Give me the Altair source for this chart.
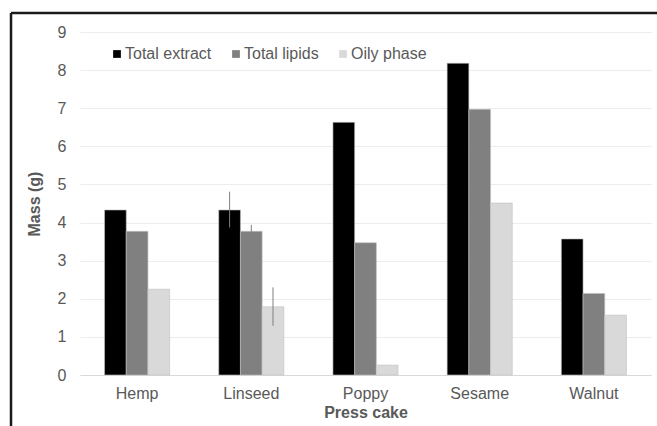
import altair as alt
import pandas as pd

cakes = ["Hemp", "Linseed", "Poppy", "Sesame", "Walnut"]
series = ["Total extract", "Total lipids", "Oily phase"]
total_extract = [4.33, 4.33, 6.63, 8.18, 3.57]
total_lipids = [3.77, 3.77, 3.47, 6.97, 2.14]
oily_phase = [2.25, 1.79, 0.26, 4.51, 1.57]
colors = ["#000000", "#808080", "#d9d9d9"]
y_ticks = [0, 1, 2, 3, 4, 5, 6, 7, 8, 9]

# error bars (Linseed only)
err_cake = ["Linseed", "Linseed", "Linseed"]
err_series = ["Total extract", "Total lipids", "Oily phase"]
err_low = [3.87, 3.60, 1.29]
err_high = [4.81, 3.94, 2.30]

rows = []
for s, vals in zip(series, [total_extract, total_lipids, oily_phase]):
    for c, v in zip(cakes, vals):
        rows.append({"cake": c, "series": s, "mass": v})
df = pd.DataFrame(rows)
edf = pd.DataFrame({"cake": err_cake, "series": err_series, "lo": err_low, "hi": err_high})

FONT = "Liberation Sans"
TXT = "#595959"

x_axis = alt.Axis(title="Press cake", labelAngle=0, ticks=False, labelPadding=10,
                  labelFontSize=16, labelColor=TXT, labelFont=FONT,
                  titleFont=FONT, titleFontSize=16, titleColor=TXT,
                  titleFontWeight="bold", titlePadding=3,
                  domainColor="#d9d9d9", grid=False)
y_axis = alt.Axis(title="Mass (g)", values=y_ticks, ticks=False, labelOverlap=False,
                  labelPadding=14, labelFontSize=16, labelColor=TXT, labelFont=FONT,
                  titleFont=FONT, titleFontSize=16, titleColor=TXT,
                  titleFontWeight="bold", titlePadding=15,
                  domain=False, gridColor="#ececec")
x_scale = alt.Scale(paddingInner=0.43, paddingOuter=0.215)
y_scale = alt.Scale(domain=[0, 9], nice=False)

x = alt.X("cake:N", sort=cakes, scale=x_scale, axis=x_axis)
xo = alt.XOffset("series:N", sort=series, scale=alt.Scale(paddingInner=0, paddingOuter=0))

bars = alt.Chart(df).mark_bar(stroke="#bfbfbf", strokeWidth=0.6).encode(
    x=x,
    xOffset=xo,
    y=alt.Y("mass:Q", scale=y_scale, axis=y_axis),
    color=alt.Color("series:N", sort=series,
                    scale=alt.Scale(domain=series, range=colors),
                    legend=alt.Legend(title=None, orient="none", legendX=29, legendY=14,
                                      direction="horizontal", symbolType="square",
                                      symbolSize=60, symbolStrokeWidth=0,
                                      labelFont=FONT, labelFontSize=16, labelColor=TXT,
                                      labelOffset=0, columnPadding=16)),
)

errs = alt.Chart(edf).mark_rule(color="#808080", strokeWidth=1).encode(
    x=alt.X("cake:N", sort=cakes, scale=x_scale, axis=x_axis),
    xOffset=xo,
    y=alt.Y("lo:Q", scale=y_scale, axis=y_axis),
    y2="hi:Q",
)

frame_top = alt.Chart(pd.DataFrame({"a": [0]})).mark_rule(color="#1a1a1a", strokeWidth=2.5).encode(
    x=alt.value(-69), x2=alt.value(580), y=alt.value(-19))
frame_left = alt.Chart(pd.DataFrame({"a": [0]})).mark_rule(color="#1a1a1a", strokeWidth=2.5).encode(
    x=alt.value(-69), y=alt.value(-19), y2=alt.value(400))

chart = alt.layer(bars, errs, frame_top, frame_left).properties(
    width=571, height=343,
    autosize=alt.AutoSizeParams(type="none"),
    padding={"left": 80, "top": 32, "right": 6, "bottom": 51},
    background="white",
).configure_view(stroke=None)

chart.save("out.html", embed_options={"renderer": "svg", "actions": False})
